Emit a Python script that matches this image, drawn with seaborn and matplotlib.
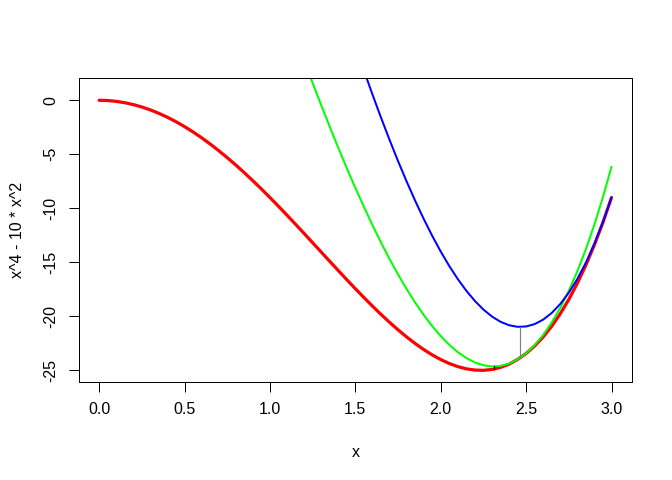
import pandas as pd
import seaborn as sns
import matplotlib.pyplot as plt

# objective f(x) = x^4 - 10 x^2, every 0.05
x_red = [round(0.05 * i, 2) for i in range(61)]
y_red = [0.000, -0.025, -0.100, -0.224, -0.398, -0.621, -0.892, -1.210, -1.574, -1.984,
         -2.438, -2.933, -3.470, -4.046, -4.660, -5.309, -5.990, -6.703, -7.444, -8.210,
         -9.000, -9.809, -10.636, -11.476, -12.326, -13.184, -14.044, -14.903, -15.758, -16.604,
         -17.438, -18.253, -19.046, -19.813, -20.548, -21.246, -21.902, -22.512, -23.068, -23.566,
         -24.000, -24.364, -24.652, -24.858, -24.974, -24.996, -24.916, -24.727, -24.422, -23.995,
         -23.438, -22.742, -21.902, -20.910, -19.756, -18.434, -16.934, -15.250, -13.372, -11.292,
         -9.000]

# first surrogate (touches at x = 3)
x_blue = [round(1.55 + 0.05 * i, 2) for i in range(30)]
y_blue = [2.772, 0.554, -1.588, -3.648, -5.621, -7.502, -9.286, -10.968, -12.541, -14.000,
          -15.339, -16.552, -17.632, -18.574, -19.371, -20.016, -20.502, -20.822, -20.970, -20.937,
          -20.717, -20.302, -19.684, -18.856, -17.809, -16.534, -15.025, -13.272, -11.266, -9.000]

# second surrogate (touches at the first minimiser)
x_green = [round(1.20 + 0.05 * i, 2) for i in range(37)]
y_green = [3.707, 1.608, -0.443, -2.443, -4.390, -6.277, -8.101, -9.858, -11.542, -13.151,
           -14.677, -16.116, -17.464, -18.714, -19.862, -20.901, -21.826, -22.632, -23.311, -23.857,
           -24.265, -24.528, -24.640, -24.592, -24.378, -23.992, -23.426, -22.672, -21.723, -20.571,
           -19.209, -17.629, -15.820, -13.777, -11.490, -8.950, -6.151]

# vertical drops from surrogate minimum to the objective
seg_x = [2.466, 2.310]
seg_top = [-20.97, -24.64]
seg_bot = [-23.82, -24.89]
seg_col = ['#808080', '#000000']

x_ticks = [0.0, 0.5, 1.0, 1.5, 2.0, 2.5, 3.0]
y_ticks = [0, -5, -10, -15, -20, -25]

sns.set_style('white')
plt.rcParams['font.family'] = ['Liberation Sans', 'DejaVu Sans']
plt.rcParams['text.color'] = 'black'
plt.rcParams['axes.labelcolor'] = 'black'
plt.rcParams['xtick.color'] = 'black'
plt.rcParams['ytick.color'] = 'black'

fig = plt.figure(figsize=(7, 5), dpi=96)
ax = fig.add_axes([0.117, 0.205, 0.8235, 0.632])

red = pd.DataFrame({'x': x_red, 'y': y_red})
blue = pd.DataFrame({'x': x_blue, 'y': y_blue})
green = pd.DataFrame({'x': x_green, 'y': y_green})

sns.lineplot(data=red, x='x', y='y', color='#ff0000', linewidth=2.4, ax=ax, sort=False)
sns.lineplot(data=green, x='x', y='y', color='#00ff00', linewidth=1.5, ax=ax, sort=False)
sns.lineplot(data=blue, x='x', y='y', color='#0000ff', linewidth=1.5, ax=ax, sort=False)
for sx, st, sb, sc in zip(seg_x, seg_top, seg_bot, seg_col):
    ax.plot([sx, sx], [st, sb], color=sc, linewidth=0.9)

ax.set_xlim(-0.12, 3.12)
ax.set_ylim(-26.04, 2.04)
ax.set_xticks(x_ticks)
ax.set_xticklabels([f'{t:.1f}' for t in x_ticks])
ax.set_yticks(y_ticks)
ax.set_yticklabels([str(t) for t in y_ticks], rotation=90, va='center')
ax.tick_params(axis='both', direction='out', length=7.2, width=0.75, colors='black',
               labelsize=12, pad=8, bottom=True, left=True)
for s in ax.spines.values():
    s.set_color('black')
    s.set_linewidth(0.75)
ax.set_xlabel('x', fontsize=12, labelpad=21, color='black')
ax.set_ylabel('x^4 - 10 * x^2', fontsize=12, labelpad=14, color='black')

fig.savefig('out.png', dpi=96)
